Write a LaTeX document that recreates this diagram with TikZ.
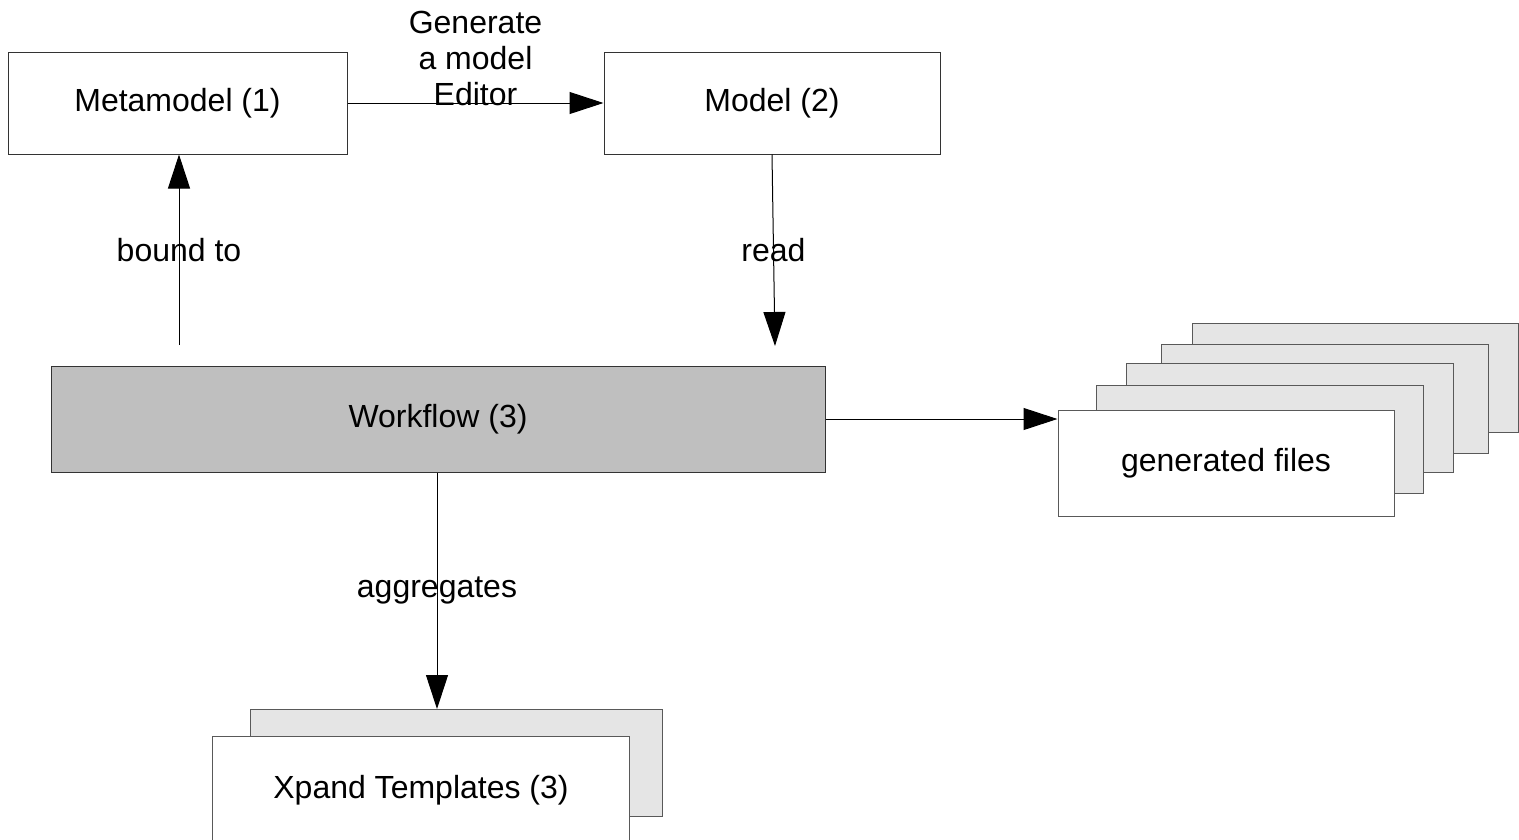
\documentclass[tikz,border=0pt]{standalone}
\usepackage{fontspec}
\setmainfont{Liberation Sans}
\usetikzlibrary{arrows.meta}

\begin{document}
\begin{tikzpicture}[x=1pt,y=-1pt,line width=1pt,
    font=\fontsize{32}{36}\selectfont,
    box/.style={draw=black!80,fill=white,inner sep=0pt},
    sheet/.style={draw=black!65,fill=black!10,inner sep=0pt},
    arr/.style={-{Triangle[length=34pt,width=22pt]}}]
    \useasboundingbox (0,0) rectangle (1519,839);
    % main boxes
    \node [box,minimum width=339,minimum height=102] (meta) at (177.5,103) {Metamodel (1)};
    \node [box,minimum width=336,minimum height=102] (model) at (772,103) {Model (2)};
    \node [box,fill=black!25,minimum width=774,minimum height=106] (flow) at (438,419) {Workflow (3)};
    % stack of generated files
    \draw [sheet] (1192,323) rectangle (1518,432);
    \draw [sheet] (1161,344) rectangle (1488,453);
    \draw [sheet] (1126,363) rectangle (1453,472);
    \draw [sheet] (1096,385) rectangle (1423,493);
    \node [box,draw=black!65,minimum width=336,minimum height=106] (files) at (1226,463.5) {generated files};
    % templates
    \node [sheet,minimum width=412,minimum height=107] (tback) at (456,763) {};
    \node [box,draw=black!65,minimum width=417,minimum height=108] (tmpl) at (421,790) {Xpand Templates (3)};
    % connectors
    \coordinate (up) at (179,345);
    \coordinate (down) at (775,346);
    \draw [arr] (meta.east) -- (model.west)
        node [midway,above,align=center,yshift=-7pt] {Generate\\a model\\Editor};
    \draw [arr] (up) -- (meta.south -| up) node [pos=0.5] {bound to};
    \draw [arr] (model.south) -- (down) node [pos=0.5] {read};
    \draw [arr] (flow.east) -- (flow.east -| files.west);
    \draw [arr] (flow.south -| 437,0) -- (tback.north -| 437,0) node [pos=0.5] {aggregates};
\end{tikzpicture}
\end{document}
